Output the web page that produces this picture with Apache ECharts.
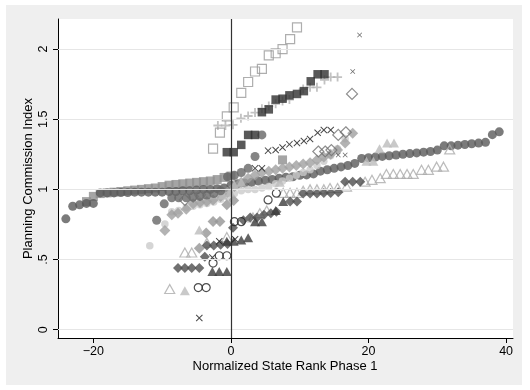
<!DOCTYPE html>
<html>
<head>
<meta charset="utf-8">
<script src="https://cdn.jsdelivr.net/npm/echarts@6/dist/echarts.min.js"></script>
<style>
  html, body { margin: 0; padding: 0; background: #fff; }
  #chart { position: absolute; left: 6px; top: 5px; width: 516px; height: 380px; }
</style>
</head>
<body>
<div id="chart"></div>
<script>
// Axis ticks
const xTicks = [-20, 0, 20, 40];
const yTicks = [0, 0.5, 1, 1.5, 2];
const yTickLabels = ['0', '.5', '1', '1.5', '2'];

// Points per state group: [normalized rank, planning commission index]
const circDark = [[-24,0.79],[-23,0.88],[-22,0.89],[-21,0.90],[-20,0.90],[-19,0.975],[-18,0.975],[-17,0.975],[-16,0.977],[-15,0.977],[-14,0.98],[-13,0.98],[-12,0.98],[-11,0.98],[-10,0.98],[-9,0.985],[-8,0.985],[-7,0.99],[-6,0.99],[-5,0.995],[-4,1.0],[-3,1.0],[-2,1.005],[-1,1.01],[0,1.03],[1,1.04],[2,1.045],[3,1.05],[4,1.06],[5,1.065],[6,1.07],[7,1.08],[8,1.087],[9,1.09],[10,1.10],[11,1.103],[12,1.11],[13,1.13],[14,1.14],[15,1.15],[16,1.16],[17,1.17],[18,1.185],[19,1.22],[20,1.225],[21,1.23],[22,1.235],[23,1.24],[24,1.245],[25,1.25],[26,1.255],[27,1.26],[28,1.265],[29,1.27],[30,1.28],[31,1.31],[32,1.31],[33,1.315],[34,1.32],[35,1.325],[36,1.33],[37,1.335],[38,1.39],[39,1.41]];
const sqMed = [[-21,0.913],[-20,0.95],[-19,0.97],[-18,0.975],[-17,0.98],[-16,0.985],[-15,0.99],[-14,0.995],[-13,1.0],[-12,1.005],[-11,1.01],[-10,1.02],[-9,1.03],[-8,1.035],[-7,1.04],[-6,1.045],[-5,1.05],[-4,1.055],[-3,1.06],[-2,1.07],[-1,1.085],[0,1.095],[7.5,1.21]];
const circMid = [[-10.8,0.78],[-9.7,0.897],[-8.6,0.94],[-7.6,0.94],[-6.5,0.94],[-5.5,0.945],[-4.5,0.95],[-3.5,0.96],[-2.5,0.97],[-1.5,0.99],[-0.5,1.09],[0.5,1.1],[1.5,1.12],[2.5,1.15],[3.5,1.234],[4.5,1.388]];
const sqBlack = [[-0.6,1.265],[0.4,1.265],[1.5,1.317],[2.5,1.388],[3.5,1.388],[4.5,1.55],[5.5,1.57],[6.5,1.64],[7.5,1.646],[8.5,1.67],[9.6,1.68],[10.6,1.70],[11.6,1.77],[12.6,1.82],[13.6,1.82]];
const plusLight = [[-1.9,1.455],[-0.8,1.455],[0.3,1.46],[1.45,1.506],[2.5,1.523],[3.5,1.547],[4.5,1.575],[5.5,1.594],[6.5,1.61],[7.5,1.63],[8.5,1.64],[10.5,1.715],[11.5,1.727],[12.5,1.727],[13.6,1.78],[14.5,1.80],[15.5,1.80]];
const sqOpen = [[-2.6,1.29],[-1.6,1.405],[-0.6,1.52],[0.4,1.585],[1.5,1.687],[2.5,1.765],[3.5,1.84],[4.5,1.858],[5.5,1.955],[6.5,1.97],[7.5,2.0],[8.6,2.07],[9.6,2.155]];
const xBlack = [[-4.6,0.083],[-2.7,0.515],[-1.7,0.63],[0.6,0.645],[3.5,1.15],[4.5,1.15],[5.4,1.276],[6.5,1.281],[7.5,1.298],[8.5,1.321],[9.6,1.33],[10.6,1.345],[11.5,1.359],[12.6,1.404],[13.5,1.423],[14.5,1.423]];
const xSmall = [[15.6,1.245],[16.6,1.245],[17.7,1.84],[18.7,2.10]];
const diaOpen = [[-6.7,0.925],[-5.5,0.949],[-4.5,0.961],[12.7,1.27],[13.7,1.27],[14.6,1.28],[15.6,1.388],[16.7,1.407],[17.6,1.68]];
const diaMed = [[-9.6,0.707],[-8.6,0.819],[-7.7,0.83],[-6.5,0.859],[-5.5,0.897],[-4.5,0.906],[-3.5,0.914],[-2.6,0.925],[-1.5,0.95],[-0.5,0.98],[0.5,1.02],[1.5,1.05],[2.5,1.08],[3.5,1.1],[4.5,1.12],[5.5,1.13],[6.5,1.14],[7.5,1.15],[8.5,1.16],[9.5,1.17],[10.5,1.18],[11.5,1.19],[12.5,1.21],[13.5,1.23],[14.5,1.25],[15.5,1.28],[16.6,1.33],[17.7,1.40]];
const diaLow = [[-4.6,0.58],[-3.6,0.69],[-2.6,0.771],[-1.6,0.771],[-0.6,0.89],[0.4,0.92]];
const circLight = [[-11.8,0.598],[-9.6,0.754],[-8.6,0.84],[-7.6,0.85],[-6.5,0.87],[-5.5,0.88],[-4.5,0.89],[-3.5,0.90],[-2.5,0.91],[-1.5,0.93],[-0.5,0.95],[0.5,0.97],[1.5,0.99],[2.5,1.0],[3.5,1.0],[4.5,1.01],[5.5,1.02],[6.5,1.04],[7.5,1.06],[8.5,1.08],[9.5,1.10],[10.5,1.12],[11.5,1.14],[12.5,1.17],[13.5,1.2],[14.5,1.24],[15.5,1.29],[16.6,1.36]];
const triOpen = [[-8.9,0.29],[-6.7,0.55],[-5.7,0.55],[-3.5,0.62],[-0.6,0.66],[3.2,0.8],[4.2,0.83],[5.2,0.85],[7.6,0.975],[8.6,0.975],[9.6,0.975],[10.5,0.99],[11.5,1.0],[12.5,1.0],[13.5,1.0],[14.4,1.01],[15.5,1.01],[16.8,1.02],[19.5,1.055],[20.5,1.068],[21.7,1.08],[22.6,1.11],[23.6,1.11],[24.6,1.11],[25.6,1.11],[26.5,1.11],[27.7,1.139],[28.7,1.139],[29.9,1.162],[30.9,1.162],[31.8,1.285]];
const triLight = [[-6.7,0.277],[-4.6,0.71],[-1.2,0.96],[-0.1,0.98],[0.5,1.03],[1.5,1.05],[7.1,1.05],[19.7,1.2],[20.7,1.2],[21.6,1.29],[22.7,1.33],[23.7,1.33]];
const diaDark = [[-7.7,0.44],[-6.7,0.44],[-5.7,0.44],[-4.6,0.44],[-3.8,0.52],[-3.5,0.6],[-2.5,0.6],[-1.5,0.605],[-0.5,0.61],[0.3,0.726],[1.8,0.78],[2.8,0.8],[3.8,0.8],[4.8,0.82],[5.8,0.83],[6.6,0.84],[8.6,0.914],[9.6,0.914],[10.5,0.97],[11.5,0.97],[12.5,0.97],[13.5,0.975],[14.5,0.975],[15.6,0.98],[16.6,1.055],[17.7,1.055],[18.8,1.055]];
const triDark = [[-2.7,0.415],[-1.7,0.415],[-0.6,0.415],[-0.6,0.63],[0.4,0.63],[1.5,0.64],[2.5,0.655],[3.5,0.77],[4.5,0.77],[6.5,0.85],[7.6,0.914]];
const circOpen = [[-4.75,0.30],[-3.6,0.30],[-2.6,0.475],[-1.7,0.527],[-0.6,0.527],[0.5,0.77],[1.5,0.77],[5.4,0.925],[6.6,0.973]];

const FONT = '"Liberation Sans", Arial, Helvetica, sans-serif';
const PLUS = 'path://M4,0L6,0L6,4L10,4L10,6L6,6L6,10L4,10L4,6L0,6L0,4L4,4Z';
const CROSS = 'path://M1,0L5,4L9,0L10,1L6,5L10,9L9,10L5,6L1,10L0,9L4,5L0,1Z';

function scatter(name, data, symbol, size, color, hollow) {
  return {
    name: name,
    type: 'scatter',
    data: data,
    symbol: symbol,
    symbolSize: size,
    silent: true,
    z: 3,
    itemStyle: hollow
      ? { color: 'rgba(0,0,0,0)', borderColor: color, borderWidth: 1.2 }
      : { color: color }
  };
}

const chart = echarts.init(document.getElementById('chart'), null, { renderer: 'canvas' });

chart.setOption({
  animation: false,
  backgroundColor: '#efefef',
  textStyle: { fontFamily: FONT },
  grid: {
    left: 52, top: 14, width: 455, height: 319,
    show: true, backgroundColor: '#ffffff', borderWidth: 0
  },
  xAxis: {
    type: 'value',
    min: -25.14, max: 41.0,
    axisLine: { show: true, onZero: false, lineStyle: { color: '#000', width: 1 } },
    axisTick: { show: true, length: 5, customValues: xTicks, lineStyle: { color: '#000' } },
    axisLabel: {
      customValues: xTicks, margin: 7, fontSize: 12.5, color: '#000', fontFamily: FONT,
      formatter: v => String(v).replace('-', '\u2212')
    },
    splitLine: { show: false }
  },
  yAxis: {
    type: 'value',
    min: -0.059, max: 2.214,
    axisLine: { show: true, onZero: false, lineStyle: { color: '#000', width: 1 } },
    axisTick: { show: true, length: 5, customValues: yTicks, lineStyle: { color: '#000' } },
    axisLabel: {
      customValues: yTicks, margin: 8, fontSize: 12.5, color: '#000', fontFamily: FONT, rotate: 90,
      formatter: v => yTickLabels[yTicks.findIndex(t => Math.abs(t - v) < 1e-9)]
    },
    splitLine: { show: false }
  },
  graphic: [
    {
      type: 'text',
      x: 279, y: 361,
      style: {
        text: 'Normalized State Rank Phase 1',
        font: '13px ' + FONT, fill: '#000',
        textAlign: 'center', textVerticalAlign: 'middle'
      }
    },
    {
      type: 'text',
      x: 22, y: 173.5,
      rotation: Math.PI / 2,
      style: {
        text: 'Planning Commission Index',
        font: '13px ' + FONT, fill: '#000',
        textAlign: 'center', textVerticalAlign: 'middle'
      }
    }
  ],
  series: [
    {
      name: 'reference lines',
      type: 'scatter',
      data: [],
      z: 1,
      markLine: {
        silent: true,
        symbol: ['none', 'none'],
        label: { show: false },
        animation: false,
        data: yTicks.map(v => ({ yAxis: v, lineStyle: { color: '#e6e6e6', width: 1, type: 'solid' } }))
          .concat([{ xAxis: 0, lineStyle: { color: '#333333', width: 1.2, type: 'solid' } }])
      }
    },
    scatter('sqMed', sqMed, 'rect', 9, '#8e8e8e', false),
    scatter('circDark', circDark, 'circle', 9, '#5a5a5a', false),
    scatter('circLight', circLight, 'circle', 7.5, '#cacaca', false),
    scatter('diaMed', diaMed, 'diamond', [11, 11], '#a0a0a0', false),
    scatter('diaLow', diaLow, 'diamond', [11, 11], '#959595', false),
    scatter('triLight', triLight, 'triangle', [10, 9], '#bcbcbc', false),
    scatter('triOpen', triOpen, 'triangle', [10, 9], '#ababab', true),
    scatter('circMid', circMid, 'circle', 9, '#666666', false),
    scatter('diaDark', diaDark, 'diamond', [10, 10], '#4e4e4e', false),
    scatter('triDark', triDark, 'triangle', [10, 9], '#3c3c3c', false),
    scatter('circOpen', circOpen, 'circle', 8, '#222222', true),
    scatter('diaOpen', diaOpen, 'diamond', [11, 11], '#707070', true),
    scatter('plusLight', plusLight, PLUS, 9, '#b3b3b3', false),
    scatter('sqOpen', sqOpen, 'rect', 9, '#9a9a9a', true),
    scatter('sqBlack', sqBlack, 'rect', 8.5, '#303030', false),
    scatter('xBlack', xBlack, CROSS, 7, '#1a1a1a', false),
    scatter('xSmall', xSmall, CROSS, 5, '#444444', false)
  ]
});
</script>
</body>
</html>
